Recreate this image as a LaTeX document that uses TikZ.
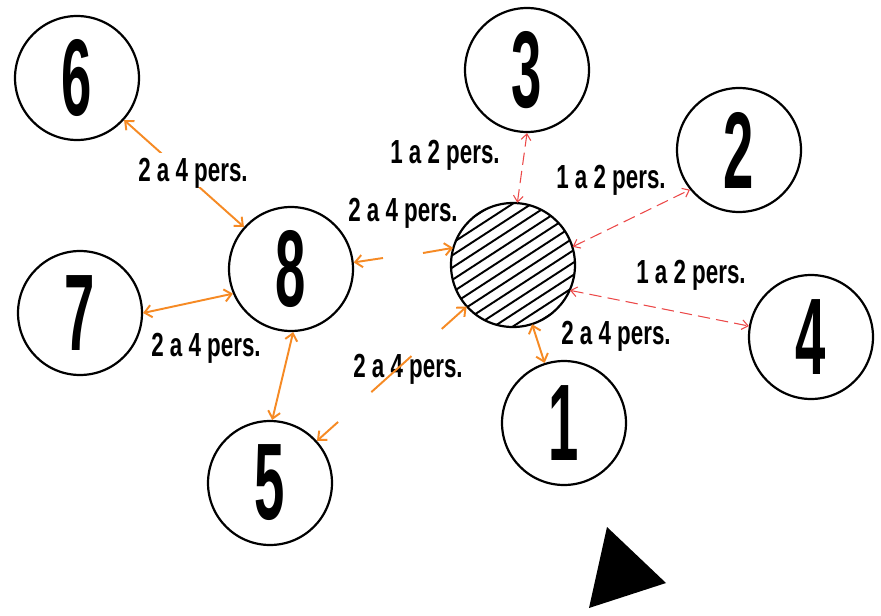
\documentclass[tikz,border=0pt]{standalone}
\usepackage{fontspec}
\usetikzlibrary{arrows.meta,calc}
\newfontfamily\labfont[FakeStretch=0.67]{Liberation Sans Bold}
\newfontfamily\numfont[FakeStretch=0.5]{Liberation Sans Bold}
\definecolor{arrorange}{RGB}{246,138,36}
\definecolor{arrred}{RGB}{236,72,72}
\tikzset{
  placecircle/.style={circle,draw=black,line width=1.25pt,minimum size=2.48cm,inner sep=0pt,
    font=\numfont\fontsize{62}{62}\selectfont},
  lab/.style={font=\labfont\fontsize{19}{19}\selectfont,text height=13.5pt,text depth=0pt,inner sep=3pt},
  oarr/.style={draw=arrorange,line width=1.1pt,arrows={Straight Barb[length=4pt,width=7pt]-Straight Barb[length=4pt,width=7pt]}},
  oline/.style={draw=arrorange,line width=1.1pt},
  rarr/.style={draw=arrred,line width=0.6pt,dash pattern=on 7pt off 3.5pt,
    arrows={Straight Barb[length=3.5pt,width=5.5pt]-Straight Barb[length=3.5pt,width=5.5pt]}},
  hatchline/.style={draw=black,line width=1.1pt},
}
\begin{document}
\begin{tikzpicture}[x=0.02cm,y=-0.02cm]
\useasboundingbox (0,0) rectangle (881,615);
\fill[white] (0,0) rectangle (881,615);

% places
\node[placecircle] (n6) at (77,78) {6};
\node[placecircle] (n8) at (291,269) {8};
\node[placecircle] (n7) at (80,313) {7};
\node[placecircle] (n5) at (270,483) {5};
\node[placecircle] (n3) at (527,70) {3};
\node[placecircle] (n2) at (739,150) {2};
\node[placecircle] (n4) at (811,337) {4};
\node[placecircle] (n1) at (564,423) {1};
\node[circle,minimum size=2.48cm,inner sep=0pt] (h) at (513,265) {};

% hatching of the central circle
\begin{scope}
  \clip (513,265) circle (62);
  \foreach \k in {-6,...,6} {
    \draw[hatchline] ($(h)+({\k*10.3*0.545-90*0.839},{\k*10.3*0.839+90*0.545})$) --
                     ($(h)+({\k*10.3*0.545+90*0.839},{\k*10.3*0.839-90*0.545})$);
  }
\end{scope}
\draw[line width=1.25pt] (513,265) circle (62);

% triangle
\coordinate (t1) at (607,527);
\coordinate (t2) at (666,583);
\coordinate (t3) at (589,608);
\fill[black] (t1) -- (t2) -- (t3) -- cycle;

% connectors 6-8 (label covers the middle)
\draw[oarr] (n6) -- (n8);
\node[lab,fill=white] (L68) at (193,170) {2 a 4 pers.};

% 7-8
\draw[oarr] (n7.0) -- (n8.203);
\node[lab] (L78) at (206,345) {2 a 4 pers.};

% 8-5
\draw[oarr] (n8.272) -- (n5.88);

% 8 - centre (broken)
\coordinate (c81) at (383,258);
\coordinate (c82) at (423,253);
\draw[oarr,arrows={-Straight Barb[length=4pt,width=7pt]}] (c81) -- (n8.6);
\draw[oarr,arrows={-Straight Barb[length=4pt,width=7pt]}] (c82) -- (h.164);
\node[lab] (L8h) at (403,210) {2 a 4 pers.};

% 5 - centre (broken)
\node[lab] (L5h) at (408,366) {2 a 4 pers.};
\coordinate (p1) at ($(n5)!0.28!(h)$);
\coordinate (p2) at ($(n5)!0.417!(h)$);
\coordinate (p3) at ($(n5)!0.582!(h)$);
\coordinate (p4) at ($(n5)!0.707!(h)$);
\draw[oarr,arrows={-Straight Barb[length=4pt,width=7pt]}] (p1) -- (n5);
\draw[oline] (p2) -- (p3);
\draw[oarr,arrows={-Straight Barb[length=4pt,width=7pt]}] (p4) -- (h);

% centre - 1
\draw[oarr] (h) -- (n1);
\node[lab] (L1) at (616,333) {2 a 4 pers.};

% red dashed
\draw[rarr] (h.86) -- (n3.270);
\node[lab] (L3) at (445,152) {1 a 2 pers.};
\draw[rarr] (h.17) -- (n2.219);
\node[lab] (L2) at (611,177) {1 a 2 pers.};
\draw[rarr] (h.336) -- (n4.170);
\node[lab] (L4) at (691,272) {1 a 2 pers.};
\end{tikzpicture}
\end{document}
